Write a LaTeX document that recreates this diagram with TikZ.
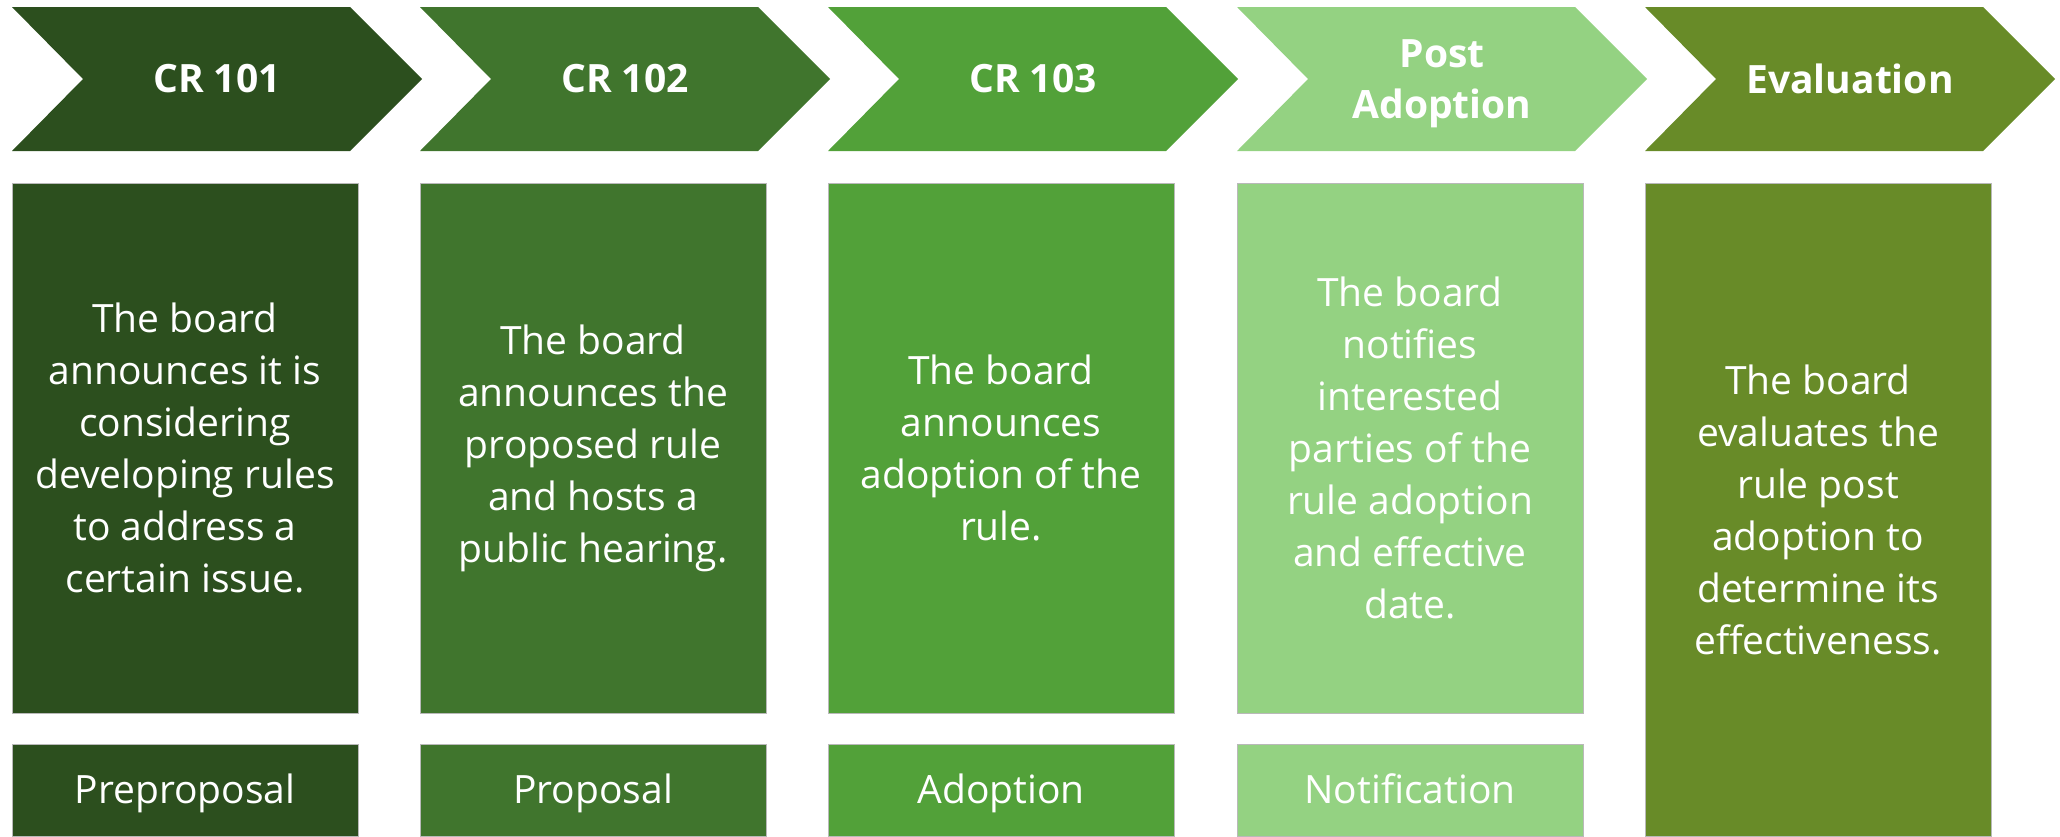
\documentclass[tikz,border=0pt]{standalone}
\usepackage{fontspec}
\setmainfont{Open Sans}

\definecolor{stageA}{RGB}{44,79,30}
\definecolor{stageB}{RGB}{64,117,45}
\definecolor{stageC}{RGB}{82,161,57}
\definecolor{stageD}{RGB}{148,210,130}
\definecolor{stageE}{RGB}{104,139,40}

\begin{document}
\begin{tikzpicture}[x=0.5pt, y=-0.5pt,
    heading/.style={text=white, font=\bfseries\fontsize{19.5}{25.5}\selectfont, align=center},
    stagebox/.style={draw=gray!55, line width=0.5pt, minimum width=173pt, text=white,
      font=\fontsize{19.5}{26}\selectfont, align=center, inner sep=0pt},
    mainbox/.style={stagebox, minimum height=265pt},
    namebox/.style={stagebox, minimum height=46pt, text height=13.6pt, text depth=0pt}]

    \useasboundingbox (0,0) rectangle (2060,836);

    % Chevrons
    \fill[stageA] (12,7) -- (350,7) -- (422,79) -- (350,151) -- (12,151) -- (83,79) -- cycle;
    \fill[stageB] (420,7) -- (758,7) -- (830,79) -- (758,151) -- (420,151) -- (491,79) -- cycle;
    \fill[stageC] (828,7) -- (1166,7) -- (1238,79) -- (1166,151) -- (828,151) -- (899,79) -- cycle;
    \fill[stageD] (1237,7) -- (1575,7) -- (1647,79) -- (1575,151) -- (1237,151) -- (1308,79) -- cycle;
    \fill[stageE] (1645,7) -- (1983,7) -- (2055,79) -- (1983,151) -- (1645,151) -- (1716,79) -- cycle;

    % Chevron titles
    \node[heading] (cr101) at (217,79) {CR 101};
    \node[heading] (cr102) at (625,79) {CR 102};
    \node[heading] (cr103) at (1033,79) {CR 103};
    \node[heading] (postadopt) at (1442,84) {Post\\Adoption};
    \node[heading] (evaluation) at (1850,79) {Evaluation};

    % Descriptions
    \node[mainbox, fill=stageA] (descA) at (185,448)
      {The board\\announces it is\\considering\\developing rules\\to address a\\certain issue.};
    \node[mainbox, fill=stageB] (descB) at (593,448)
      {The board\\announces the\\proposed rule\\and hosts a\\public hearing.};
    \node[mainbox, fill=stageC] (descC) at (1001,448)
      {The board\\announces\\adoption of the\\rule.};
    \node[mainbox, fill=stageD] (descD) at (1410,448)
      {The board\\notifies\\interested\\parties of the\\rule adoption\\and effective\\date.};
    \node[stagebox, fill=stageE, minimum height=326.5pt] (descE) at (1818,509.5)
      {The board\\evaluates the\\rule post\\adoption to\\determine its\\effectiveness.};

    % Stage names
    \node[namebox, fill=stageA] (nameA) at (185,790) {Preproposal};
    \node[namebox, fill=stageB] (nameB) at (593,790) {Proposal};
    \node[namebox, fill=stageC] (nameC) at (1001,790) {Adoption};
    \node[namebox, fill=stageD] (nameD) at (1410,790) {Notification};
\end{tikzpicture}
\end{document}
